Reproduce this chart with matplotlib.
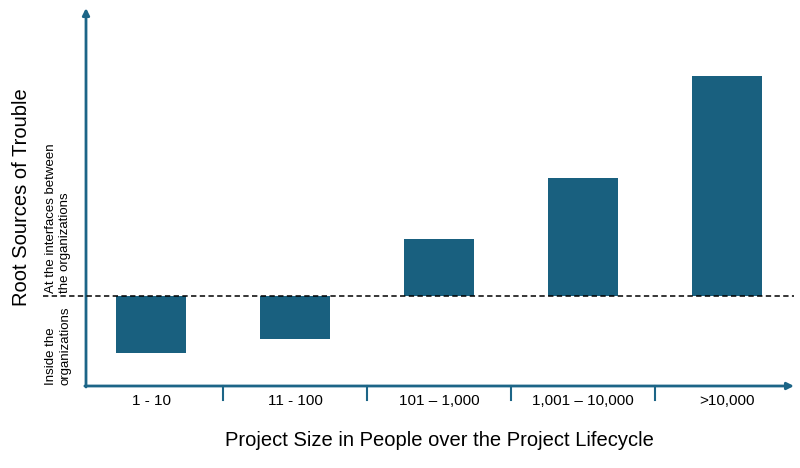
import numpy as np
import matplotlib.pyplot as plt

# Data (baseline = 0, negative = inside the organizations)
categories = ["1 - 10", "11 - 100", "101 \u2013 1,000", "1,001 \u2013 10,000", ">10,000"]
trouble = [-0.57, -0.43, 0.57, 1.18, 2.20]

bar_color = "#19607f"
axis_color = "#1c6587"

plt.rcParams['font.family'] = ['Liberation Sans', 'DejaVu Sans']

fig = plt.figure(figsize=(8, 4.68), dpi=100)
ax = fig.add_axes([0, 0, 1, 1])
# map figure pixels to data: x px -> (px-151)/144, y px -> (296-py)/100
ax.set_xlim((0 - 151) / 144, (800 - 151) / 144)
ax.set_ylim((296 - 468) / 100, (296 - 0) / 100)
ax.axis("off")

x = np.arange(len(categories))
ax.bar(x, trouble, width=0.49, color=bar_color, zorder=2)

x_left = (86 - 151) / 144
x_right = (794 - 151) / 144
y_axis = (296 - 386) / 100
y_top = (296 - 8) / 100

# axes with arrow heads
ax.annotate("", xy=(x_right, y_axis), xytext=(x_left - 0.008, y_axis),
            arrowprops=dict(arrowstyle="-|>", color=axis_color, lw=2,
                            mutation_scale=10, shrinkA=0, shrinkB=0))
ax.annotate("", xy=(x_left, y_top), xytext=(x_left, y_axis - 0.01),
            arrowprops=dict(arrowstyle="-|>", color=axis_color, lw=2,
                            mutation_scale=10, shrinkA=0, shrinkB=0))

# dashed baseline between the two regions
ax.plot([(43 - 151) / 144, x_right], [0, 0], ls=(0, (3.5, 2.2)), color="black", lw=1.1, zorder=3)

# separators between categories below the x axis
for s in x[:-1] + 0.5:
    ax.plot([s, s], [y_axis, (296 - 400) / 100], color=axis_color, lw=1.5)

# category labels
for xi, lab in zip(x, categories):
    ax.text(xi, (296 - 401) / 100, lab, ha="center", va="center", fontsize=11)

# axis titles
ax.text(x.mean(), (296 - 440) / 100, "Project Size in People over the Project Lifecycle",
        ha="center", va="center", fontsize=14.5)
ax.text((22 - 151) / 144, (296 - 197) / 100, "Root Sources of Trouble", rotation=90,
        ha="center", va="center", fontsize=14.5)
ax.text((58 - 151) / 144, (296 - 293) / 100, "At the interfaces between\nthe organizations",
        rotation=90, ha="center", va="bottom", multialignment="left",
        fontsize=9.5, linespacing=1.3)
ax.text((58 - 151) / 144, (296 - 385) / 100, "Inside the\norganizations",
        rotation=90, ha="center", va="bottom", multialignment="left",
        fontsize=9.5, linespacing=1.3)

fig.savefig("out.png", dpi=100)
